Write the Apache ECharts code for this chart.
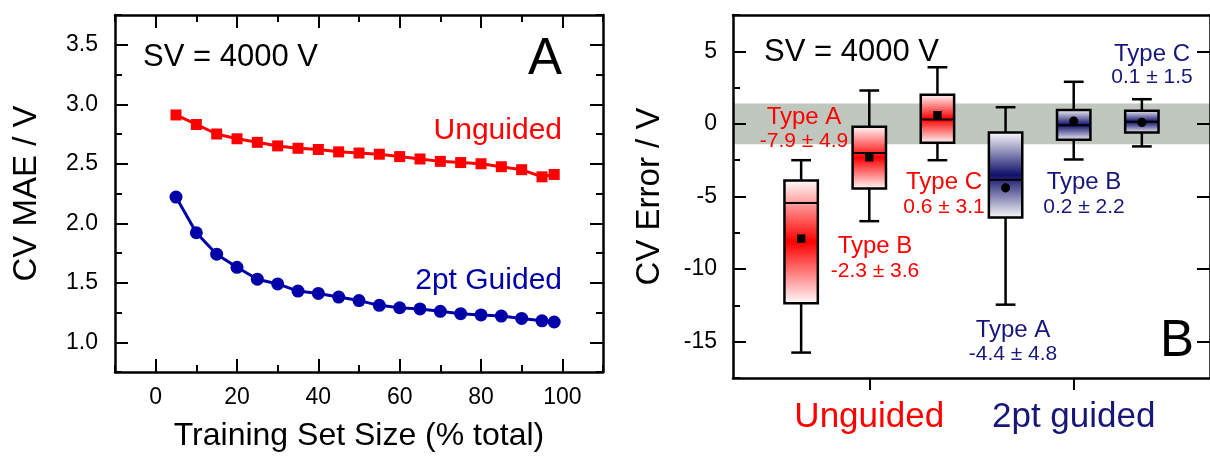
<!DOCTYPE html>
<html><head><meta charset="utf-8">
<script src="https://cdn.jsdelivr.net/npm/echarts@6/dist/echarts.min.js"></script>
<style>html,body{margin:0;padding:0;background:#fff}#c{width:1210px;height:457px}</style>
</head><body><div id="c"></div>
<script>
// ---------- Panel A data ----------
const trainSize   = [5,10,15,20,25,30,35,40,45,50,55,60,65,70,75,80,85,90,95,98];
const unguidedMAE = [2.91,2.83,2.75,2.71,2.68,2.65,2.63,2.62,2.60,2.59,2.58,2.56,2.54,2.52,2.51,2.50,2.475,2.45,2.39,2.41];
const guidedMAE   = [2.22,1.92,1.74,1.63,1.53,1.49,1.43,1.41,1.38,1.35,1.31,1.29,1.28,1.26,1.24,1.23,1.22,1.20,1.18,1.17];
const xTicksA = [0,20,40,60,80,100];
const yTicksA = [1.0,1.5,2.0,2.5,3.0,3.5];

// ---------- Panel B data ----------
const groups = ['Unguided','2pt guided'];
const types  = ['Type A','Type B','Type C'];
// [min, Q1, median, Q3, max]
const unguidedBoxes = [[-15.75,-12.35,-5.45,-3.9,-2.5],[-6.7,-4.45,-2.0,-0.2,2.3],[-2.5,-1.3,0.3,2.0,3.9]];
const guidedBoxes   = [[-12.45,-6.45,-3.85,-0.6,1.15],[-2.45,-1.1,-0.1,0.95,2.9],[-1.55,-0.6,0.15,0.9,1.7]];
const unguidedMean = [-7.9,-2.3,0.6];
const unguidedSD   = [4.9,3.6,3.1];
const guidedMean   = [-4.4,0.2,0.1];
const guidedSD     = [4.8,2.2,1.5];
const band = [-1.4, 1.4];
const yTicksB = [-15,-10,-5,0,5];
const groupTickPos = [2,5];

// ---------- styles / layout ----------
const FF = '"Liberation Sans", Arial, sans-serif';
const RED = '#ff0000', BLUE_A = '#0000a8', BLUE_B = '#17177a', NAVY = '#10106a';
const lineS = {color:'#000', width:2.5};
const tickS = {color:'#000', width:2};
const near = (arr, v) => arr.some(t => Math.abs(t - v) < 1e-6);

function axis(o) {
  return Object.assign({
    type:'value', z:5, splitLine:{show:false},
    axisLine:{show:false, onZero:false, lineStyle:lineS},
    axisTick:{show:false}, axisLabel:{show:false}
  }, o);
}

const boxData = [];
[unguidedBoxes, guidedBoxes].forEach((boxes, g) => {
  const means = g === 0 ? unguidedMean : guidedMean;
  boxes.forEach((b, t) => boxData.push([g*3 + t + 1, b[0], b[1], b[2], b[3], b[4], means[t], g]));
});

function renderBox(params, api) {
  const pos = api.value(0), g = api.value(7);
  const [x, yMin] = api.coord([pos, api.value(1)]);
  const yQ1 = api.coord([pos, api.value(2)])[1];
  const yMed = api.coord([pos, api.value(3)])[1];
  const yQ3 = api.coord([pos, api.value(4)])[1];
  const yMax = api.coord([pos, api.value(5)])[1];
  const yMean = api.coord([pos, api.value(6)])[1];
  const unit = api.size([1, 0])[0];
  const hw = unit * 0.245, cw = unit * 0.145;
  const col = g === 0 ? RED : NAVY;
  const grad = new echarts.graphic.LinearGradient(0,0,0,1,[
    {offset:0, color:'#ffffff'},{offset:0.5, color:col},{offset:1, color:'#ffffff'}]);
  const ls = {stroke:'#000', lineWidth:2.5};
  const mean = g === 0
    ? {type:'rect', shape:{x:x-4.2, y:yMean-4.2, width:8.4, height:8.4}, style:{fill:'#000'}}
    : {type:'circle', shape:{cx:x, cy:yMean, r:4.6}, style:{fill:'#000'}};
  return {type:'group', children:[
    {type:'line', shape:{x1:x, y1:yMax, x2:x, y2:yQ3}, style:ls},
    {type:'line', shape:{x1:x, y1:yQ1, x2:x, y2:yMin}, style:ls},
    {type:'line', shape:{x1:x-cw, y1:yMax, x2:x+cw, y2:yMax}, style:ls},
    {type:'line', shape:{x1:x-cw, y1:yMin, x2:x+cw, y2:yMin}, style:ls},
    {type:'rect', shape:{x:x-hw, y:yQ3, width:2*hw, height:yQ1-yQ3}, style:{fill:grad, stroke:'#000', lineWidth:2.5}},
    {type:'line', shape:{x1:x-hw, y1:yMed, x2:x+hw, y2:yMed}, style:{stroke:'#000', lineWidth:2}},
    mean
  ]};
}

function renderBand(params, api) {
  const cs = params.coordSys;
  const yTop = api.coord([0, api.value(1)])[1];
  const yBot = api.coord([0, api.value(0)])[1];
  return {type:'rect', shape:{x:cs.x, y:yTop, width:cs.width, height:yBot-yTop}, style:{fill:'#bfc7bf'}};
}

// annotation layout (pixel positions of label centres: [x, yTitle, yValue])
const annotPos = [
  [[804,117.5,141.7],[875,246,271],[944,182.5,207.5]],
  [[1013,330,354],[1084,182.5,207.5],[1152,54,77.5]]
];
const graphics = [];
[0,1].forEach(g => {
  const means = g === 0 ? unguidedMean : guidedMean;
  const sds = g === 0 ? unguidedSD : guidedSD;
  const col = g === 0 ? RED : BLUE_B;
  types.forEach((tp, t) => {
    const p = annotPos[g][t];
    graphics.push({type:'text', x:p[0], y:p[1], z:10, style:{text:tp, fill:col, fontSize:24, fontFamily:FF, align:'center', verticalAlign:'middle'}});
    graphics.push({type:'text', x:p[0], y:p[2], z:10, style:{text:means[t].toFixed(1) + ' \u00b1 ' + sds[t].toFixed(1), fill:col, fontSize:21, fontFamily:FF, align:'center', verticalAlign:'middle'}});
  });
});
graphics.push(
  {type:'text', x:143, y:57.5, z:10, style:{text:'SV = 4000 V', fill:'#000', fontSize:31, fontFamily:FF, align:'left', verticalAlign:'middle'}},
  {type:'text', x:764, y:52, z:10, style:{text:'SV = 4000 V', fill:'#000', fontSize:31, fontFamily:FF, align:'left', verticalAlign:'middle'}},
  {type:'text', x:562, y:60, z:10, style:{text:'A', fill:'#000', fontSize:51, fontFamily:FF, align:'right', verticalAlign:'middle'}},
  {type:'text', x:1194, y:342, z:10, style:{text:'B', fill:'#000', fontSize:51, fontFamily:FF, align:'right', verticalAlign:'middle'}},
  {type:'text', x:562, y:130.5, z:10, style:{text:'Unguided', fill:RED, fontSize:30, fontFamily:FF, align:'right', verticalAlign:'middle'}},
  {type:'text', x:562, y:281, z:10, style:{text:'2pt Guided', fill:BLUE_A, fontSize:30, fontFamily:FF, align:'right', verticalAlign:'middle'}}
);

const chart = echarts.init(document.getElementById('c'), null, {renderer:'canvas'});
chart.setOption({
  animation:false,
  backgroundColor:'#fff',
  textStyle:{fontFamily:FF},
  grid:[
    {left:115, top:15, width:488, height:361},
    {left:733, top:15, width:488.6, height:363}
  ],
  xAxis:[
    axis({gridIndex:0, min:-10, max:110, interval:10, position:'bottom',
      axisLine:{show:true, onZero:false, lineStyle:lineS},
      axisTick:{show:true, inside:true, length:7, lineStyle:tickS},
      axisLabel:{show:true, fontSize:23, color:'#000', margin:14, fontFamily:FF, formatter:v => near(xTicksA, v) ? String(v) : ''},
      name:'Training Set Size (% total)', nameLocation:'middle', nameGap:48,
      nameTextStyle:{fontSize:32, color:'#000', fontFamily:FF}}),
    axis({gridIndex:0, min:-10, max:110, position:'bottom',
      axisTick:{show:true, inside:true, length:13, lineStyle:tickS, customValues:xTicksA}}),
    axis({gridIndex:0, min:-10, max:110, interval:10, position:'top',
      axisLine:{show:true, onZero:false, lineStyle:lineS},
      axisTick:{show:true, inside:true, length:7, lineStyle:tickS}}),
    axis({gridIndex:0, min:-10, max:110, position:'top',
      axisTick:{show:true, inside:true, length:13, lineStyle:tickS, customValues:xTicksA}}),
    axis({gridIndex:1, min:0, max:7, position:'bottom',
      axisLine:{show:true, onZero:false, lineStyle:lineS},
      axisTick:{show:true, inside:false, length:12, lineStyle:tickS, customValues:groupTickPos},
      axisLabel:{show:true, margin:22, customValues:groupTickPos,
        formatter:v => v === groupTickPos[0] ? '{u|' + groups[0] + '}' : (v === groupTickPos[1] ? '{g|' + groups[1] + '}' : ''),
        rich:{u:{color:RED, fontSize:35, fontFamily:FF}, g:{color:BLUE_B, fontSize:35, fontFamily:FF}}}}),
    axis({gridIndex:1, min:0, max:7, position:'top',
      axisLine:{show:true, onZero:false, lineStyle:lineS}})
  ],
  yAxis:[
    axis({gridIndex:0, min:0.75, max:3.75, interval:0.25, position:'left',
      axisLine:{show:true, onZero:false, lineStyle:lineS},
      axisTick:{show:true, inside:true, length:7, lineStyle:tickS},
      axisLabel:{show:true, fontSize:23, color:'#000', margin:17, fontFamily:FF, formatter:v => near(yTicksA, v) ? v.toFixed(1) : ''},
      name:'CV MAE / V', nameLocation:'middle', nameGap:72, nameRotate:90,
      nameTextStyle:{fontSize:33, color:'#000', fontFamily:FF}}),
    axis({gridIndex:0, min:0.75, max:3.75, position:'left',
      axisTick:{show:true, inside:true, length:13, lineStyle:tickS, customValues:yTicksA}}),
    axis({gridIndex:0, min:0.75, max:3.75, interval:0.25, position:'right',
      axisLine:{show:true, onZero:false, lineStyle:lineS},
      axisTick:{show:true, inside:true, length:7, lineStyle:tickS}}),
    axis({gridIndex:0, min:0.75, max:3.75, position:'right',
      axisTick:{show:true, inside:true, length:13, lineStyle:tickS, customValues:yTicksA}}),
    axis({gridIndex:1, min:-17.5, max:7.5, interval:2.5, position:'left',
      axisLine:{show:true, onZero:false, lineStyle:lineS},
      axisTick:{show:true, inside:true, length:7, lineStyle:tickS},
      axisLabel:{show:true, fontSize:23, color:'#000', margin:16, fontFamily:FF, formatter:v => near(yTicksB, v) ? String(Math.round(v)) : ''},
      name:'CV Error / V', nameLocation:'middle', nameGap:67, nameRotate:90,
      nameTextStyle:{fontSize:33, color:'#000', fontFamily:FF}}),
    axis({gridIndex:1, min:-17.5, max:7.5, position:'left',
      axisTick:{show:true, inside:true, length:13, lineStyle:tickS, customValues:yTicksB}}),
    axis({gridIndex:1, min:-17.5, max:7.5, position:'right',
      axisLine:{show:true, onZero:false, lineStyle:lineS},
      axisTick:{show:true, inside:true, length:13, lineStyle:tickS, customValues:yTicksB}})
  ],
  series:[
    {type:'line', name:'Unguided', xAxisIndex:0, yAxisIndex:0, z:3,
     data:trainSize.map((x, i) => [x, unguidedMAE[i]]),
     symbol:'rect', symbolSize:11, itemStyle:{color:RED}, lineStyle:{color:RED, width:3}},
    {type:'line', name:'2pt Guided', xAxisIndex:0, yAxisIndex:0, z:3,
     data:trainSize.map((x, i) => [x, guidedMAE[i]]),
     symbol:'circle', symbolSize:13, itemStyle:{color:BLUE_A}, lineStyle:{color:BLUE_A, width:3}},
    {type:'custom', name:'band', xAxisIndex:4, yAxisIndex:4, z:1, silent:true,
     renderItem:renderBand, data:[[band[0], band[1]]], encode:{y:[0,1]}},
    {type:'custom', name:'boxes', xAxisIndex:4, yAxisIndex:4, z:3,
     renderItem:renderBox, data:boxData, encode:{x:0, y:[1,2,3,4,5]}}
  ],
  graphic:graphics
});
</script></body></html>
